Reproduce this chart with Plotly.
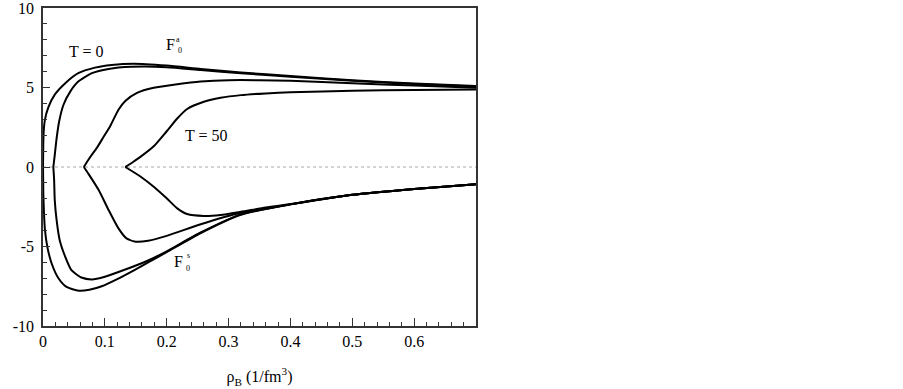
import plotly.graph_objects as go

# ---- data ----
# T = 0 curve
rho_T0_up = [0, 0.0004, 0.0012, 0.003, 0.0086, 0.019, 0.036, 0.057, 0.084, 0.111, 0.146, 0.2, 0.255, 0.32, 0.4, 0.5, 0.6, 0.7]
F_T0_up = [0, 1.4, 2.3, 2.95, 3.75, 4.55, 5.27, 5.9, 6.25, 6.42, 6.5, 6.38, 6.17, 5.95, 5.72, 5.45, 5.25, 5.1]
rho_T0_lo = [0, 0.0005, 0.0016, 0.0032, 0.007, 0.014, 0.025, 0.038, 0.058, 0.075, 0.095, 0.12, 0.147, 0.17, 0.2, 0.255, 0.32, 0.4, 0.5, 0.6, 0.7]
F_T0_lo = [0, -1.66, -2.92, -3.97, -5.02, -6.07, -7.0, -7.54, -7.78, -7.72, -7.5, -7.05, -6.5, -6.0, -5.35, -4.15, -3.0, -2.35, -1.75, -1.38, -1.08]

# second curve
rho_T1_up = [0.0167, 0.019, 0.022, 0.026, 0.033, 0.044, 0.057, 0.079, 0.106, 0.143, 0.2, 0.255, 0.32, 0.4, 0.5, 0.6, 0.7]
F_T1_up = [0, 0.75, 1.8, 2.85, 3.9, 4.74, 5.37, 5.9, 6.17, 6.3, 6.28, 6.1, 5.9, 5.68, 5.42, 5.22, 5.07]
rho_T1_lo = [0.0167, 0.018, 0.019, 0.022, 0.027, 0.036, 0.046, 0.062, 0.079, 0.1, 0.133, 0.17, 0.2, 0.255, 0.32, 0.4, 0.5, 0.6, 0.7]
F_T1_lo = [0, -0.82, -2.08, -3.34, -4.6, -5.65, -6.49, -6.95, -7.07, -6.9, -6.45, -5.88, -5.3, -4.12, -2.98, -2.35, -1.75, -1.38, -1.08]

# third curve
rho_T2_up = [0.066, 0.075, 0.087, 0.098, 0.109, 0.122, 0.133, 0.152, 0.179, 0.217, 0.255, 0.3, 0.35, 0.4, 0.5, 0.6, 0.7]
F_T2_up = [0, 0.55, 1.2, 1.9, 2.6, 3.6, 4.15, 4.66, 4.98, 5.2, 5.37, 5.46, 5.46, 5.42, 5.27, 5.12, 4.98]
rho_T2_lo = [0.066, 0.073, 0.09, 0.106, 0.122, 0.135, 0.15, 0.17, 0.2, 0.255, 0.32, 0.4, 0.5, 0.6, 0.7]
F_T2_lo = [0, -0.4, -1.45, -2.7, -3.86, -4.49, -4.7, -4.64, -4.33, -3.6, -2.88, -2.35, -1.75, -1.38, -1.08]

# T = 50 curve
rho_T3_up = [0.133, 0.145, 0.158, 0.179, 0.2, 0.217, 0.233, 0.26, 0.287, 0.32, 0.36, 0.4, 0.5, 0.6, 0.7]
F_T3_up = [0, 0.3, 0.65, 1.3, 2.25, 3.05, 3.65, 4.1, 4.35, 4.52, 4.63, 4.7, 4.8, 4.85, 4.88]
rho_T3_lo = [0.133, 0.158, 0.179, 0.2, 0.217, 0.233, 0.26, 0.287, 0.32, 0.36, 0.4, 0.5, 0.6, 0.7]
F_T3_lo = [0, -0.61, -1.24, -1.97, -2.6, -2.96, -3.08, -3.02, -2.82, -2.55, -2.33, -1.75, -1.38, -1.08]

x_ticks = [0, 0.1, 0.2, 0.3, 0.4, 0.5, 0.6]
x_tick_text = ["0", "0.1", "0.2", "0.3", "0.4", "0.5", "0.6"]
y_ticks = [-10, -5, 0, 5, 10]
y_tick_text = ["-10", "-5", "0", "5", "10"]

FONT = "'Liberation Serif', 'Times New Roman', 'DejaVu Serif', serif"

fig = go.Figure()

# zero reference line (thin gray dotted)
fig.add_shape(type="line", xref="paper", yref="y", x0=0, x1=1, y0=0, y1=0,
              line=dict(color="#a8a8a8", width=1, dash="dot"), layer="below")

branches = [
    (rho_T0_up, F_T0_up), (rho_T0_lo, F_T0_lo),
    (rho_T1_up, F_T1_up), (rho_T1_lo, F_T1_lo),
    (rho_T2_up, F_T2_up), (rho_T2_lo, F_T2_lo),
    (rho_T3_up, F_T3_up), (rho_T3_lo, F_T3_lo),
]
for xs, ys in branches:
    fig.add_trace(go.Scatter(x=xs, y=ys, mode="lines",
                             line=dict(color="black", width=2, shape="spline", smoothing=0.6),
                             showlegend=False, hoverinfo="skip"))

# annotations
ann = [
    dict(x=0.071, y=7.25, text="T = 0", size=16),
    dict(x=0.264, y=2.0, text="T = 50", size=16),
    dict(x=0.206, y=7.68, text="F", size=16),
    dict(x=0.219, y=8.05, text="a", size=8),
    dict(x=0.221, y=7.3, text="0", size=8),
    dict(x=0.2196, y=-5.96, text="F", size=16),
    dict(x=0.235, y=-5.54, text="s", size=8),
    dict(x=0.235, y=-6.38, text="0", size=8),
]
for a in ann:
    fig.add_annotation(x=a["x"], y=a["y"], text=a["text"], showarrow=False,
                       xref="x", yref="y", font=dict(family=FONT, size=a["size"], color="black"))

fig.update_layout(
    width=903, height=389,
    margin=dict(l=43, r=427, t=8, b=63),
    paper_bgcolor="white", plot_bgcolor="white",
    font=dict(family=FONT, size=16, color="black"),
    xaxis=dict(range=[0, 0.7], tickvals=x_ticks, ticktext=x_tick_text, automargin=False,
               tickfont=dict(family=FONT, size=16, color="black"), ticklabeloverflow="allow",
               ticks="inside", ticklen=8, tickwidth=1.2, tickcolor="#333",
               minor=dict(dtick=0.02, ticks="inside", ticklen=4, tickwidth=1, tickcolor="#333"),
               showline=True, linecolor="#333", linewidth=1.5, mirror=True,
               showgrid=False, zeroline=False,
               title=dict(text="ρ<sub>B</sub> (1/fm<sup>3</sup>)", font=dict(family=FONT, size=16), standoff=22)),
    yaxis=dict(range=[-10, 10], tickvals=y_ticks, ticktext=y_tick_text, automargin=False,
               tickfont=dict(family=FONT, size=16, color="black"), ticklabelstandoff=4,
               ticklabeloverflow="allow",
               ticks="inside", ticklen=7, tickwidth=1.2, tickcolor="#333",
               minor=dict(dtick=1, ticks="inside", ticklen=4, tickwidth=1, tickcolor="#333"),
               showline=True, linecolor="#333", linewidth=1.5, mirror=True,
               showgrid=False, zeroline=False),
)

fig.write_html("out.html", config={"displayModeBar": False},
               post_script="document.body.style.margin='0';document.body.style.overflow='hidden';")
